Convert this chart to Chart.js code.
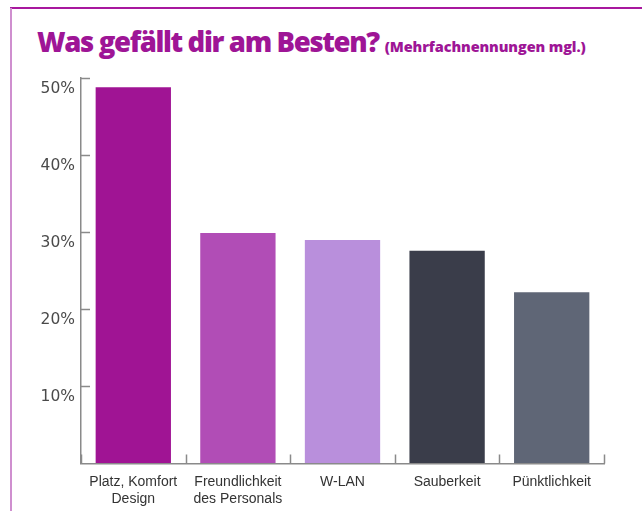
<!DOCTYPE html>
<html><head><meta charset="utf-8">
<script src="https://cdn.jsdelivr.net/npm/chart.js@4/dist/chart.umd.min.js"></script>
<style>
html,body{margin:0;padding:0;background:#fff;}
#wrap{position:relative;width:642px;height:511px;overflow:hidden;}
#frameTop{position:absolute;left:10px;top:7px;width:640px;height:2px;background:#a8189e;}
#frameLeft{position:absolute;left:10px;top:8px;width:2px;height:510px;background:#cf8fcf;}
#title{position:absolute;left:37px;top:23px;font-family:"Open Sans",sans-serif;font-weight:800;color:#9e1596;font-size:27.5px;letter-spacing:-1.35px;white-space:nowrap;}
#title span{font-size:14.5px;font-weight:800;letter-spacing:-0.1px;}
#c{position:absolute;left:0;top:0;}
</style></head>
<body><div id="wrap">
<div id="frameTop"></div><div id="frameLeft"></div>
<div id="title">Was gefällt dir am Besten? <span>(Mehrfachnennungen mgl.)</span></div>
<canvas id="c" width="642" height="511"></canvas>
</div>
<script>
const categories = [["Platz, Komfort","Design"],["Freundlichkeit","des Personals"],"W-LAN","Sauberkeit","Pünktlichkeit"];
const values = [48.8, 29.9, 29.0, 27.6, 22.2];
const barColors = ["#a01494","#b14db6","#b98fdc","#3a3d4a","#5f6676"];
const yTicks = [0,10,20,30,40,50];

const axisColor = "#8a8a8a";
const innerTicks = {
  id:"innerTicks",
  afterDraw(chart){
    const ctx = chart.ctx, y = chart.scales.y, x = chart.scales.x, a = chart.chartArea;
    ctx.save();
    ctx.strokeStyle = axisColor; ctx.lineWidth = 1.5;
    ctx.beginPath();
    yTicks.forEach(v=>{ if(v===0) return; const py=Math.round(y.getPixelForValue(v))+0.5; ctx.moveTo(a.left,py); ctx.lineTo(a.left+9,py); });
    for(let i=0;i<=categories.length;i++){
      const px = Math.round(x.getPixelForValue(i-0.5))+0.5;
      ctx.moveTo(px,a.bottom); ctx.lineTo(px,a.bottom-9);
    }
    ctx.stroke();
    ctx.restore();
  }
};

new Chart(document.getElementById("c"),{
  type:"bar",
  data:{labels:categories,datasets:[{data:values,backgroundColor:barColors,borderWidth:0,barPercentage:0.8,categoryPercentage:0.9}]},
  options:{
    responsive:false,animation:false,
    layout:{padding:{top:78,right:38,bottom:0,left:0}},
    plugins:{legend:{display:false},tooltip:{enabled:false},title:{display:false}},
    scales:{
      y:{min:0,max:50,
        afterFit(s){s.width=81;},
        ticks:{stepSize:10,color:"#4a4a4a",padding:6,labelOffset:11,font:{family:"DejaVu Sans",size:15.5},callback:v=>v===0?"":v+"%"},
        grid:{display:true,drawOnChartArea:false,drawTicks:false},
        border:{display:true,color:axisColor,width:1.5}},
      x:{
        afterFit(s){s.height=47.5;},
        ticks:{color:"#333",padding:11,font:{family:"Liberation Sans",size:14,lineHeight:1.15},maxRotation:0,autoSkip:false},
        grid:{display:false,drawTicks:false},
        border:{display:true,color:axisColor,width:1.5}}
    }
  },
  plugins:[innerTicks]
});
</script>
</body></html>
